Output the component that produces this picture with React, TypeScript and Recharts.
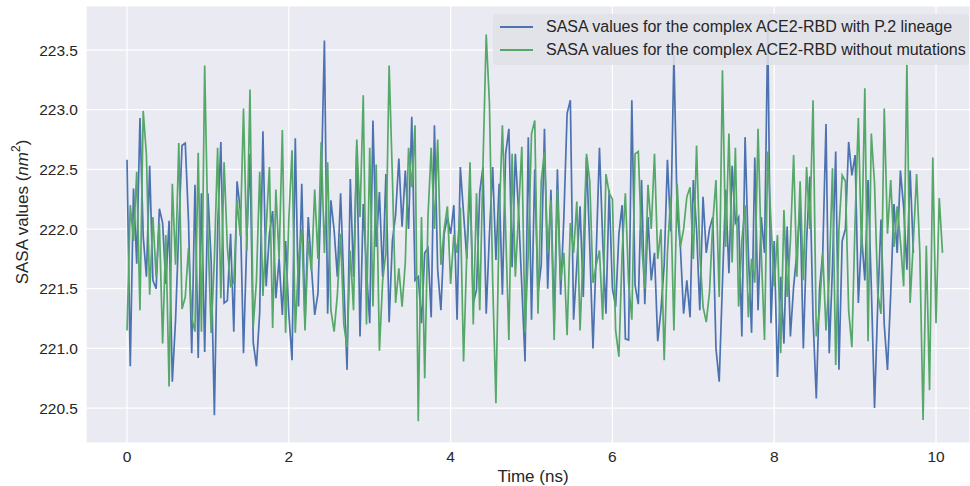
import { LineChart, Line, XAxis, YAxis, CartesianGrid, Legend } from "recharts"

// frames are 0.04 ns apart
const timeStep = 0.04

// SASA (nm^2) per frame, ACE2-RBD with P.2 lineage
const sasaP2 = [
  222.58, 220.85, 222.34, 221.71, 222.93, 221.94, 221.6, 222.53, 221.57, 221.5,
  222.17, 222.05, 221.54, 222.07, 220.72, 221.24, 222.0, 222.7, 222.72, 222.07,
  220.96, 222.37, 220.92, 222.3, 220.97, 222.3, 221.73, 220.44, 222.0, 222.73,
  221.38, 221.4, 221.96, 221.14, 222.4, 222.16, 220.96, 221.9, 222.63, 221.05,
  220.85, 221.3, 222.82, 221.52, 221.96, 222.15, 221.42, 221.75, 221.28, 221.9,
  221.29, 220.9, 222.76, 221.35, 222.38, 221.22, 222.1, 221.68, 221.28, 221.46,
  222.35, 223.58, 221.29, 222.24, 221.99, 221.6, 222.3, 221.54, 220.82, 222.42,
  221.6, 222.7, 221.1, 222.21, 221.66, 221.21, 222.91, 221.85, 222.31, 221.6,
  222.46, 221.22, 221.9, 222.12, 222.59, 222.02, 222.49, 222.0, 222.94, 221.57,
  221.6, 221.21, 221.8, 221.84, 221.26, 222.87, 221.66, 221.32, 221.96, 222.1,
  221.96, 222.2, 221.24, 222.52, 222.13, 221.75, 222.38, 221.38, 221.49, 222.31,
  222.52, 221.29, 221.96, 222.52, 221.74, 222.38, 221.45, 222.63, 222.84, 221.68,
  222.63, 222.14, 221.52, 220.89, 222.77, 221.24, 222.5, 221.46, 221.7, 222.84,
  221.5, 222.33, 221.2, 222.5, 221.45, 222.1, 222.97, 223.08, 221.24, 221.7,
  222.19, 221.43, 222.6, 221.85, 221.0, 221.8, 222.68, 221.9, 221.29, 222.33,
  221.5, 221.35, 221.96, 222.2, 221.08, 221.07, 223.08, 221.53, 221.37, 222.41,
  221.37, 222.1, 221.57, 221.8, 221.06, 221.32, 221.7, 222.58, 221.98, 223.46,
  222.15, 221.85, 221.29, 221.57, 221.26, 222.41, 222.0, 221.32, 222.27, 221.8,
  222.0, 222.1, 221.0, 220.72, 221.55, 222.33, 221.63, 222.53, 222.05, 222.1,
  221.1, 222.77, 221.8, 221.13, 222.6, 221.32, 222.1, 221.8, 223.7, 221.21,
  221.9, 220.76, 221.6, 221.04, 222.02, 221.1, 221.52, 221.8, 222.19, 221.0,
  221.9, 222.44, 221.25, 220.58, 221.5, 221.8, 222.88, 220.96, 221.68, 222.65,
  220.82, 221.9, 222.0, 222.73, 222.45, 222.62, 221.38, 221.95, 221.57, 222.41,
  221.52, 220.5, 221.38, 222.08, 221.2, 220.82, 221.46, 222.21, 221.8, 222.49,
  222.18, 221.66, 222.49, 221.8,
]

// SASA (nm^2) per frame, ACE2-RBD without mutations
const sasaWild = [
  221.15, 222.2, 221.9, 222.48, 221.32, 222.99, 222.62, 221.45, 222.1, 221.6,
  222.05, 221.04, 221.95, 220.68, 222.38, 221.7, 222.72, 221.33, 221.43, 221.84,
  221.26, 221.14, 222.64, 221.14, 223.37, 221.97, 221.13, 221.75, 222.68, 221.42,
  222.56, 221.85, 221.52, 221.55, 222.24, 221.94, 223.01, 221.82, 223.17, 221.18,
  221.57, 222.48, 221.44, 222.0, 222.52, 221.17, 222.33, 221.75, 222.83, 221.13,
  222.08, 222.66, 221.13, 221.75, 222.0, 221.15, 221.9, 221.65, 222.33, 221.75,
  222.73, 221.8, 222.56, 221.32, 221.14, 221.45, 221.96, 221.2, 221.01, 221.82,
  221.32, 222.75, 222.1, 223.12, 221.2, 222.68, 221.35, 222.54, 220.98, 221.57,
  221.8, 223.37, 222.44, 221.38, 221.67, 221.35, 221.72, 222.68, 222.35, 222.87,
  220.39, 222.1, 220.75, 222.1, 222.68, 222.0, 222.75, 221.7, 222.0, 222.19,
  221.54, 221.95, 221.8, 222.18, 220.89, 221.8, 222.56, 221.2, 222.3, 221.32,
  222.54, 223.63, 223.05, 221.56, 220.54, 222.08, 222.87, 222.0, 221.07, 222.63,
  221.6, 222.14, 222.69, 221.13, 221.8, 222.8, 222.91, 221.29, 222.4, 222.65,
  221.8, 222.24, 221.07, 222.33, 221.57, 221.8, 221.11, 222.05, 221.8, 222.23,
  221.15, 221.85, 222.63, 222.4, 221.55, 221.7, 221.82, 221.24, 222.46, 222.3,
  222.25, 221.15, 220.93, 221.8, 222.3, 221.55, 221.24, 222.63, 222.65, 221.9,
  221.5, 222.37, 222.0, 222.63, 221.75, 222.0, 220.9, 221.8, 222.27, 221.15,
  222.38, 221.85, 222.0, 222.27, 222.35, 221.75, 222.7, 221.8, 221.35, 221.22,
  221.47, 222.05, 222.41, 221.43, 223.33, 221.85, 222.8, 221.72, 222.68, 221.35,
  221.9, 222.2, 221.26, 221.75, 221.55, 222.84, 221.8, 221.07, 222.65, 222.05,
  221.52, 221.95, 220.96, 222.16, 221.43, 221.9, 222.62, 221.6, 222.4, 221.57,
  222.52, 222.0, 223.08, 221.1, 221.32, 221.8, 221.15, 221.6, 222.51, 220.86,
  222.0, 222.45, 222.4, 221.32, 221.01, 222.08, 222.93, 221.8, 223.18, 221.06,
  222.8, 222.38, 221.46, 221.29, 223.01, 221.96, 222.41, 221.85, 222.19, 221.9,
  221.52, 223.39, 221.38, 221.9, 222.46, 221.8, 220.4, 221.86, 220.65, 222.6,
  221.21, 222.26, 221.8,
]

const xTicks = [0, 2, 4, 6, 8, 10]
const yTicks = [220.5, 221, 221.5, 222, 222.5, 223, 223.5]

const p2Name = "SASA values for the complex ACE2-RBD with P.2 lineage"
const wildName = "SASA values for the complex ACE2-RBD without mutations"

const blue = "#4C72B0"
const green = "#55A868"
const ink = "#262626"
const font = "'Liberation Sans', Arial, sans-serif"

const rows = sasaWild.map((v, i) => ({
  time: +(i * timeStep).toFixed(2),
  p2: sasaP2[i],
  wild: v,
}))

function LegendBox() {
  const items = [
    { name: p2Name, color: blue, top: 3 },
    { name: wildName, color: green, top: 26 },
  ]
  return (
    <div
      style={{
        position: "relative",
        width: 476,
        height: 51,
        background: "rgba(224,224,231,0.88)",
        borderRadius: 3,
        fontFamily: font,
        fontSize: 16,
        color: ink,
      }}
    >
      {items.map((it) => (
        <div
          key={it.name}
          style={{ position: "absolute", left: 7, top: it.top, height: 20, display: "flex", alignItems: "center", whiteSpace: "nowrap" }}
        >
          <span style={{ display: "inline-block", width: 33, height: 1.7, background: it.color }} />
          <span style={{ marginLeft: 13 }}>{it.name}</span>
        </div>
      ))}
    </div>
  )
}

export default function App() {
  return (
    <div style={{ position: "absolute", left: 0, top: 0, width: 970, height: 486, background: "#fff" }}>
      <LineChart width={970} height={486} data={rows} margin={{ top: 6, right: 0, bottom: 0, left: 0 }}>
        <CartesianGrid stroke="#ffffff" strokeWidth={1.2} fill="#EAEAF2" fillOpacity={1} />
        <XAxis
          type="number"
          dataKey="time"
          domain={[-0.507, 10.42]}
          ticks={xTicks}
          allowDataOverflow
          axisLine={false}
          tickLine={false}
          height={43}
          tick={{ fill: ink, fontSize: 15.5, fontFamily: font }}
          label={{
            content: () => (
              <text x={533} y={482} textAnchor="middle" fontSize={17} fontFamily={font} fill={ink}>
                Time (ns)
              </text>
            ),
          }}
        />
        <YAxis
          type="number"
          domain={[220.207, 223.869]}
          ticks={yTicks}
          allowDataOverflow
          axisLine={false}
          tickLine={false}
          width={86}
          tickFormatter={(v: number) => v.toFixed(1)}
          tick={{ fill: ink, fontSize: 15.5, fontFamily: font }}
          label={{
            content: () => (
              <text
                x={22}
                y={212}
                transform="rotate(-90 22 212)"
                textAnchor="middle"
                dominantBaseline="central"
                fontSize={17}
                fontFamily={font}
                fill={ink}
              >
                SASA values (<tspan fontStyle="italic">nm</tspan>
                <tspan dy={-6} fontSize={12}>2</tspan>
                <tspan dy={6}>)</tspan>
              </text>
            ),
          }}
        />
        <Line dataKey="p2" name={p2Name} stroke={blue} strokeWidth={1.7} dot={false} isAnimationActive={false} />
        <Line dataKey="wild" name={wildName} stroke={green} strokeWidth={1.7} dot={false} isAnimationActive={false} />
        <Legend
          layout="vertical"
          align="center"
          verticalAlign="middle"
          content={() => <LegendBox />}
          wrapperStyle={{ position: "absolute", left: 493, top: 14, width: 476, height: 51 }}
        />
      </LineChart>
    </div>
  )
}
